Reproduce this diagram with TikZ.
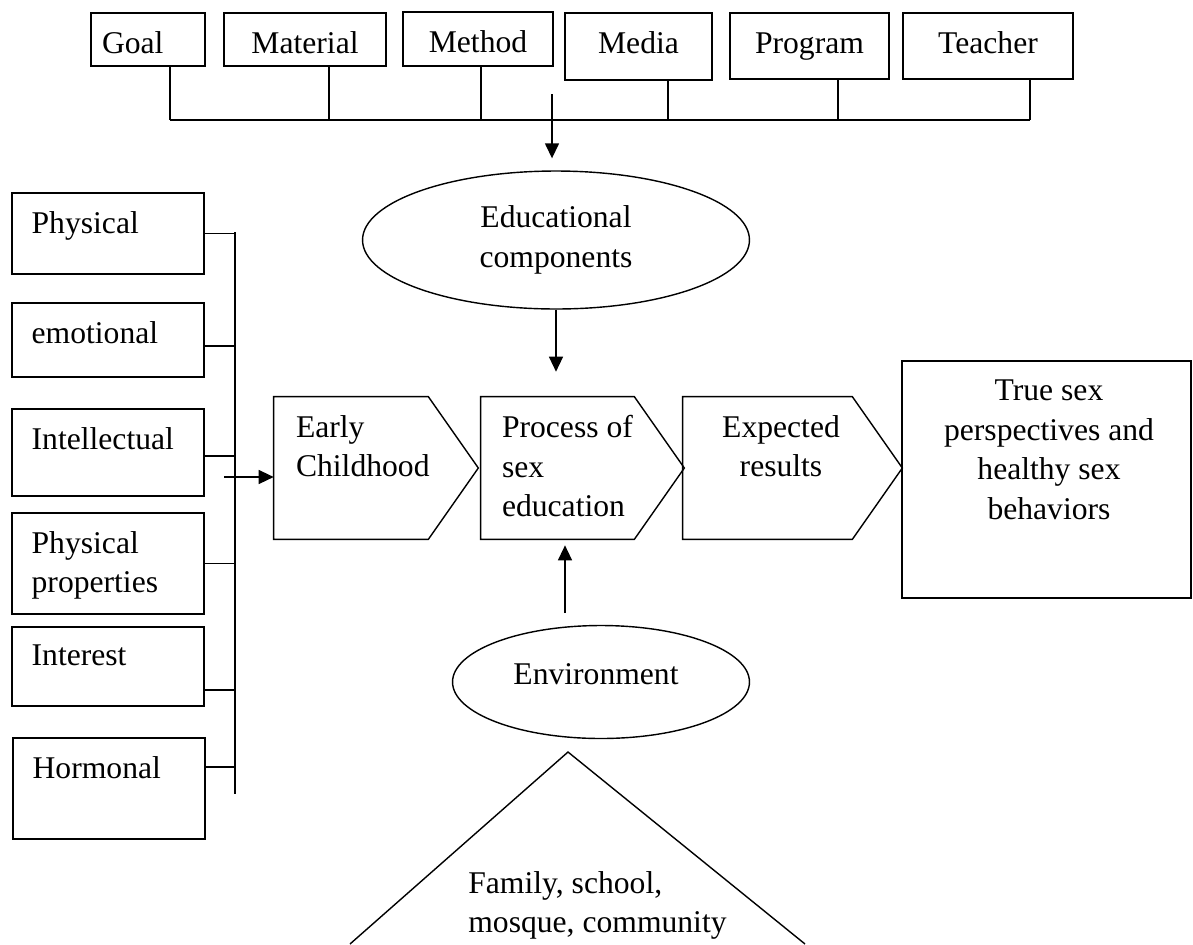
\documentclass[tikz,border=0pt]{standalone}
\usepackage{fontspec}
\setmainfont{Liberation Serif}
\usetikzlibrary{arrows.meta, positioning, shapes.geometric}

\begin{document}
\begin{tikzpicture}[
			x=0.02cm, y=-0.02cm,
			font=\fontsize{18pt}{22.5pt}\selectfont,
			box/.style={draw, line width=0.8pt, inner sep=0pt},
			topbox/.style={box, text height=0.8cm},
			flow/.style={inner sep=0pt, minimum height=2.84cm},
			oval/.style={draw, ellipse, line width=0.8pt, inner sep=0pt, align=center},
			txt/.style={inner sep=0pt, align=left},
			line/.style={line width=0.8pt},
			arr/.style={-{Triangle[length=0.3cm, width=0.28cm]}, line width=0.8pt}
			]
			\useasboundingbox (0,0) rectangle (1193,944);
			
			% educational inputs
			\node[topbox, text depth=0.26cm, minimum width=2.28cm, text width=1.84cm, align=left] (goal) at (148,39.5) {Goal};
			\node[topbox, text depth=0.26cm, minimum width=3.24cm] (material) at (305,39.5) {Material};
			\node[topbox, text depth=0.28cm, minimum width=3.0cm] (method) at (478,39) {Method};
			\node[topbox, text depth=0.54cm, minimum width=2.94cm] (media) at (638.5,46.5) {Media};
			\node[topbox, text depth=0.52cm, minimum width=3.18cm] (program) at (809.5,46) {Program};
			\node[topbox, text depth=0.52cm, minimum width=3.4cm] (teacher) at (988,46) {Teacher};
			
			\coordinate (busL) at (170,120);
			\coordinate (busR) at (1030,120);
			\coordinate (busdrop) at (552,94);
			\draw[line] (busL) -- (busR);
			\foreach \n/\dx in {goal/0.44cm, material/0.48cm, method/0.06cm, media/0.59cm, program/0.57cm, teacher/0.84cm}
				\draw[line] ([xshift=\dx]\n.south) -- ([xshift=\dx]\n.south |- busL);
			
			\node[oval, minimum width=7.74cm, minimum height=2.76cm] (educ) at (556,240) {Educational\\components};
			\draw[arr, shorten >=0.24cm] (busdrop) -- (busdrop |- educ.north);
			
			% child factors
			\node[box, minimum width=3.84cm, minimum height=1.62cm] (physical) at (108,233.5) {};
			\node[box, minimum width=3.84cm, minimum height=1.48cm] (emotional) at (108,340) {};
			\node[box, minimum width=3.84cm, minimum height=1.74cm] (intellectual) at (108,452.5) {};
			\node[box, minimum width=3.84cm, minimum height=2.02cm] (props) at (108,563.5) {};
			\node[box, minimum width=3.84cm, minimum height=1.58cm] (interest) at (108,666.5) {};
			\node[box, minimum width=3.84cm, minimum height=2.02cm] (hormonal) at (109,788.5) {};
			
			\node[txt, anchor=north west] at ([xshift=0.4cm, yshift=-0.37cm]physical.north west) {Physical};
			\node[txt, anchor=north west] at ([xshift=0.4cm, yshift=-0.37cm]emotional.north west) {emotional};
			\node[txt, anchor=north west] at ([xshift=0.4cm, yshift=-0.37cm]intellectual.north west) {Intellectual};
			\node[txt, anchor=north west] at ([xshift=0.4cm, yshift=-0.37cm]props.north west) {Physical\\properties};
			\node[txt, anchor=north west] at ([xshift=0.4cm, yshift=-0.37cm]interest.north west) {Interest};
			\node[txt, anchor=north west] at ([xshift=0.4cm, yshift=-0.37cm]hormonal.north west) {Hormonal};
			
			\coordinate (ltop) at (235,232);
			\coordinate (lbot) at (235,794);
			\coordinate (leftin) at (224,477);
			\draw[line] (ltop) -- (lbot);
			\draw[line] (physical.east) -- (physical.east -| ltop);
			\draw[line] ([yshift=-0.12cm]emotional.east) -- ([yshift=-0.12cm]emotional.east -| ltop);
			\draw[line] ([yshift=-0.07cm]intellectual.east) -- ([yshift=-0.07cm]intellectual.east -| ltop);
			\draw[line] (props.east) -- (props.east -| ltop);
			\draw[line] ([yshift=-0.47cm]interest.east) -- ([yshift=-0.47cm]interest.east -| ltop);
			\draw[line] ([yshift=0.43cm]hormonal.east) -- ([yshift=0.43cm]hormonal.east -| ltop);
			
			% process chain
			\node[flow, minimum width=3.08cm] (early) at (351,468) {};
			\node[flow, minimum width=3.06cm] (process) at (557.5,468) {};
			\node[flow, minimum width=3.38cm] (expected) at (767.5,468) {};
			\foreach \n in {early, process, expected}
				\draw[line] (\n.north west) -- (\n.north east) -- ([xshift=1cm]\n.east) -- (\n.south east) -- (\n.south west) -- cycle;
			
			\node[txt, anchor=north west] at ([xshift=0.44cm, yshift=-0.37cm]early.north west) {Early\\Childhood};
			\node[txt, anchor=north west] at ([xshift=0.42cm, yshift=-0.37cm]process.north west) {Process of\\sex\\education};
			\node[txt, anchor=north, align=center] at ([xshift=0.27cm, yshift=-0.37cm]expected.north) {Expected\\results};
			
			\node[box, minimum width=5.78cm, minimum height=4.74cm] (outcome) at (1046.5,479.5) {};
			\node[txt, anchor=north, align=center] at ([xshift=0.05cm, yshift=-0.39cm]outcome.north) {True sex\\perspectives and\\healthy sex\\behaviors};
			
			\draw[arr] (leftin) -- (leftin -| early.west);
			\draw[arr, shorten >=0.5cm] (educ.south) -- (educ.south |- process.north);
			
			% environment
			\node[oval, minimum width=5.94cm, minimum height=2.26cm] (env) at (601,682) {};
			\node[txt] at (596,674) {Environment};
			\coordinate (envup) at (565,613);
			\draw[arr, shorten >=0.12cm] (envup) -- (envup |- process.south);
			
			\coordinate (apex) at (568,752);
			\draw[line] (350,944) -- (apex) -- (805,944);
			\node[txt, anchor=north west] at (468,871) {Family, school,\\mosque, community};
			
		\end{tikzpicture}
\end{document}
